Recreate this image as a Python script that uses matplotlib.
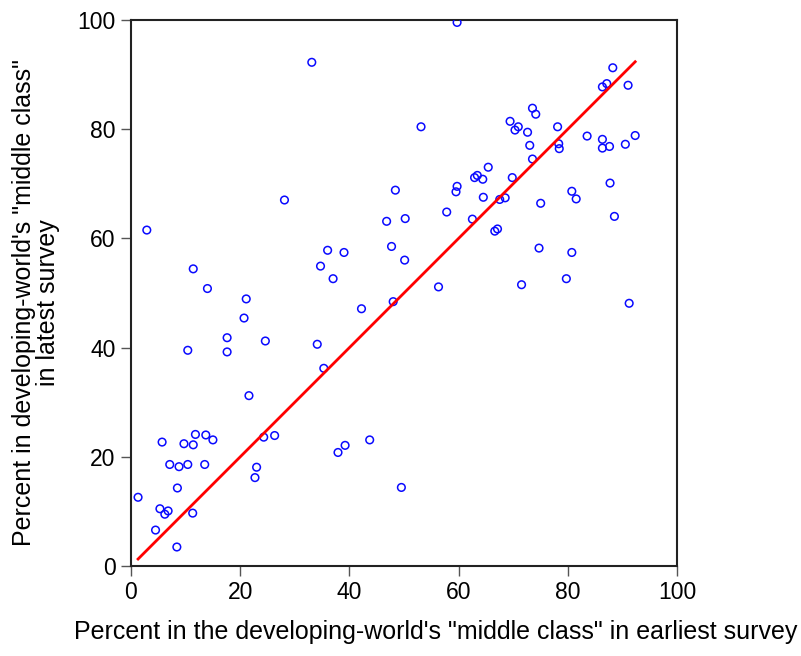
import numpy as np
import matplotlib
matplotlib.use("Agg")
import matplotlib.pyplot as plt

plt.rcParams['font.family'] = ['Liberation Sans', 'DejaVu Sans']

# percent in middle class: earliest survey (x) vs latest survey (y)
earliest = [33.1, 28.1, 2.9, 48.4, 46.8, 47.7, 36.0, 39.0, 34.7, 37.0, 11.4, 14.0,
            59.7, 88.2, 86.3, 87.1, 91.0, 73.5, 74.1, 53.1, 69.4, 70.9, 70.3, 78.1,
            72.6, 83.5, 86.3, 92.3, 73.0, 78.3, 78.4, 86.3, 87.6, 90.5, 73.5, 65.4,
            62.9, 63.4, 64.4, 69.8, 59.7, 59.5, 87.7, 64.5, 67.5, 68.5, 80.7, 81.5,
            75.0, 57.8, 50.2, 62.5, 88.5, 66.6, 67.1, 74.7, 80.7, 50.1, 79.7, 71.5,
            56.3, 91.2, 49.5, 21.1, 20.7, 17.6, 17.6, 10.4, 24.6, 34.1, 35.3, 21.6,
            42.2, 48.0, 11.8, 13.7, 15.0, 5.7, 9.7, 11.4, 24.3, 26.3, 7.1, 8.8,
            10.4, 13.5, 23.0, 22.7, 37.9, 39.2, 43.7, 8.5, 1.3, 5.3, 6.8, 6.2,
            11.3, 4.5, 8.4]
latest = [92.2, 67.0, 61.5, 68.8, 63.1, 58.5, 57.8, 57.4, 54.9, 52.6, 54.4, 50.8,
          99.5, 91.2, 87.7, 88.3, 88.0, 83.8, 82.7, 80.4, 81.4, 80.4, 79.8, 80.4,
          79.4, 78.7, 78.1, 78.8, 77.0, 77.3, 76.4, 76.5, 76.8, 77.2, 74.5, 73.0,
          71.1, 71.5, 70.8, 71.1, 69.5, 68.5, 70.1, 67.5, 67.1, 67.4, 68.6, 67.2,
          66.4, 64.8, 63.6, 63.5, 64.0, 61.3, 61.7, 58.2, 57.4, 56.0, 52.6, 51.5,
          51.1, 48.1, 14.4, 48.9, 45.4, 41.8, 39.2, 39.5, 41.2, 40.6, 36.2, 31.2,
          47.1, 48.4, 24.1, 24.0, 23.1, 22.7, 22.4, 22.2, 23.6, 23.9, 18.6, 18.2,
          18.6, 18.6, 18.1, 16.2, 20.8, 22.1, 23.1, 14.3, 12.6, 10.5, 10.1, 9.5,
          9.7, 6.6, 3.5]

fig = plt.figure(figsize=(8.01, 6.56), dpi=100)
ax = fig.add_axes([0.1635, 0.137, 0.682, 0.833])

ax.scatter(earliest, latest, s=30, facecolors='none', edgecolors='#0a0aff', linewidths=1.1, zorder=3)

# 45-degree line over the range of the data
lo, hi = min(earliest), max(earliest)
ax.plot([lo, hi], [lo, hi], color='#ff0000', linewidth=2.0, zorder=4)

ax.set_xlim(0, 100)
ax.set_ylim(0, 100)
ax.set_xticks([0, 20, 40, 60, 80, 100])
ax.set_yticks([0, 20, 40, 60, 80, 100])
ax.tick_params(direction='out', length=7, width=1, labelsize=16.5, pad=4, color='#555555')
for s in ax.spines.values():
    s.set_linewidth(1.5)
    s.set_color('#222222')

ax.set_xlabel('Percent in the developing-world\'s "middle class" in earliest survey', fontsize=18)
ax.xaxis.set_label_coords(0.557, -0.098)
ax.set_ylabel('Percent in developing-world\'s "middle class"\nin latest survey',
              fontsize=18, linespacing=1.0)
ax.yaxis.set_label_coords(-0.13, 0.483)

fig.savefig('out.png', dpi=100)
